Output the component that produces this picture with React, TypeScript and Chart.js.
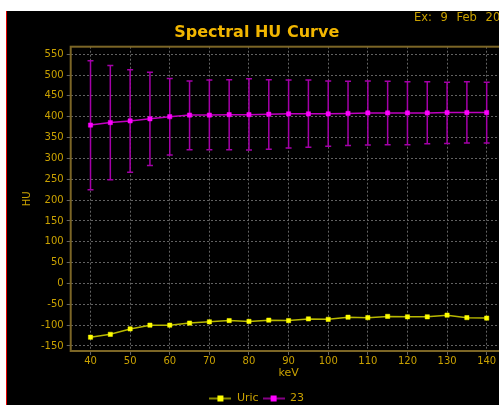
import React, { useEffect, useRef } from "react";
import { Chart, registerables } from "chart.js";

Chart.register(...registerables);

const kev = [40, 45, 50, 55, 60, 65, 70, 75, 80, 85, 90, 95, 100, 105, 110, 115, 120, 125, 130, 135, 140];
const uric = [-129, -122, -109, -100, -100, -95, -92, -89, -91, -88, -89, -85, -86, -81, -82, -79, -80, -80, -76, -82, -83];
const s23 = [380, 386, 390, 395, 400, 404, 404, 405, 405, 406, 407, 407, 407, 408, 409, 409, 409, 409, 410, 410, 410];
const s23Low = [225, 249, 267, 283, 308, 321, 321, 321, 320, 322, 325, 327, 329, 331, 332, 333, 333, 335, 336, 337, 337];
const s23High = [534, 523, 513, 507, 492, 486, 488, 489, 491, 489, 488, 488, 486, 485, 486, 485, 484, 484, 483, 484, 483];
const xTicks = [40, 50, 60, 70, 80, 90, 100, 110, 120, 130, 140];
const yTicks = [-150, -100, -50, 0, 50, 100, 150, 200, 250, 300, 350, 400, 450, 500, 550];
const seriesNames = ["Uric", "23"];
const titleText = "Spectral HU Curve";
const stampText = "Ex: 9 Feb 2020";

const GOLD = "#c9a100";
const FRAME = "#7c6626";
const GRID = "#626262";
const FONT = "'DejaVu Sans', sans-serif";

function legendIcon(line: string, fill: string) {
  const c = document.createElement("canvas");
  c.width = 22;
  c.height = 8;
  const g = c.getContext("2d")!;
  g.strokeStyle = line;
  g.lineWidth = 1.5;
  g.beginPath();
  g.moveTo(0, 4);
  g.lineTo(22, 4);
  g.stroke();
  g.fillStyle = fill;
  g.fillRect(8, 1, 6, 6);
  return c;
}

const errorBars = {
  id: "errorBars",
  beforeDatasetsDraw(chart: any) {
    const { ctx, scales, chartArea } = chart;
    ctx.save();
    ctx.strokeStyle = FRAME;
    ctx.lineWidth = 2;
    ctx.strokeRect(chartArea.left, chartArea.top, chartArea.right - chartArea.left, chartArea.bottom - chartArea.top);
    ctx.strokeStyle = "#a400a8";
    ctx.lineWidth = 1.5;
    for (let i = 0; i < kev.length; i++) {
      const x = scales.x.getPixelForValue(kev[i]);
      const y1 = scales.y.getPixelForValue(s23Low[i]);
      const y2 = scales.y.getPixelForValue(s23High[i]);
      ctx.beginPath();
      ctx.moveTo(x, y1);
      ctx.lineTo(x, y2);
      ctx.moveTo(x - 3, y1);
      ctx.lineTo(x + 3, y1);
      ctx.moveTo(x - 3, y2);
      ctx.lineTo(x + 3, y2);
      ctx.stroke();
    }
    ctx.restore();
  },
};

export default function App() {
  const ref = useRef<HTMLCanvasElement>(null);
  useEffect(() => {
    if (!ref.current) return;
    const icons = [legendIcon("#b8b800", "#ffff00"), legendIcon("#b000b0", "#ff00ff")];
    const chart = new Chart(ref.current, {
      type: "line",
      data: {
        datasets: [
          {
            label: seriesNames[0],
            data: kev.map((k, i) => ({ x: k, y: uric[i] })),
            borderColor: "#b8b800",
            backgroundColor: "#ffff00",
            pointBackgroundColor: "#ffff00",
            pointBorderColor: "#ffff00",
            pointStyle: "rect",
            pointRadius: 3,
            pointBorderWidth: 0.5,
            borderWidth: 1.5,
          },
          {
            label: seriesNames[1],
            data: kev.map((k, i) => ({ x: k, y: s23[i] })),
            borderColor: "#c000c0",
            backgroundColor: "#ff00ff",
            pointBackgroundColor: "#ff00ff",
            pointBorderColor: "#ff00ff",
            pointStyle: "rect",
            pointRadius: 3,
            pointBorderWidth: 0.5,
            borderWidth: 1.5,
          },
        ],
      },
      options: {
        responsive: false,
        animation: false,
        layout: { padding: { left: 0, right: 12.5, top: 0, bottom: 0 } },
        plugins: {
          title: {
            display: true,
            text: titleText,
            color: "#f2b600",
            font: { family: FONT, size: 16, weight: "bold" },
            padding: { top: 12.5, bottom: 4.0 },
          },
          legend: {
            position: "bottom",
            labels: {
              color: GOLD,
              font: { family: FONT, size: 11 },
              usePointStyle: true,
              pointStyleWidth: 22,
              boxHeight: 8,
              padding: 4,
              generateLabels: (c: any) =>
                c.data.datasets.map((d: any, i: number) => ({
                  text: d.label,
                  fontColor: GOLD,
                  pointStyle: icons[i],
                  datasetIndex: i,
                  hidden: false,
                  lineWidth: 0,
                  strokeStyle: "transparent",
                  fillStyle: "transparent",
                })),
            },
          },
          tooltip: { enabled: false },
        },
        scales: {
          x: {
            type: "linear",
            min: 35,
            max: 145,
            afterFit: (s: any) => {
              s.height = 38;
            },
            afterBuildTicks: (s: any) => {
              s.ticks = xTicks.map((v) => ({ value: v }));
            },
            ticks: { color: GOLD, font: { family: FONT, size: 10 }, padding: 0, maxRotation: 0 },
            grid: { color: GRID, tickColor: GRID, tickLength: 4, lineWidth: 1 },
            border: { display: false, dash: [2, 2] },
            title: { display: true, text: "keV", color: GOLD, font: { family: FONT, size: 11 }, padding: { top: 0, bottom: 9 } },
          },
          y: {
            type: "linear",
            min: -162,
            max: 568,
            afterFit: (s: any) => {
              s.width = 63.7;
            },
            afterBuildTicks: (s: any) => {
              s.ticks = yTicks.map((v) => ({ value: v }));
            },
            ticks: { color: GOLD, font: { family: FONT, size: 10 }, padding: 3 },
            grid: { color: GRID, tickColor: GRID, tickLength: 4, lineWidth: 1 },
            border: { display: false, dash: [2, 2] },
            title: { display: true, text: "HU", color: GOLD, font: { family: FONT, size: 10 }, padding: { top: 14, bottom: 0 } },
          },
        },
      },
      plugins: [errorBars],
    });
    return () => chart.destroy();
  }, []);

  return (
    <div style={{ position: "fixed", left: 0, top: 0, width: 499, height: 405, background: "#fff", overflow: "hidden" }}>
      <div style={{ position: "absolute", left: 6, top: 11, width: 1.3, height: 394, background: "#e00000" }} />
      <div style={{ position: "absolute", left: 7.3, top: 11, width: 520, height: 403, background: "#000" }}>
        <canvas ref={ref} width={512} height={403} style={{ display: "block" }} />
        <div
          style={{
            position: "absolute",
            left: 406.7,
            top: 0,
            whiteSpace: "nowrap",
            color: GOLD,
            fontFamily: FONT,
            fontSize: 11.5,
            lineHeight: "13px",
            wordSpacing: 5,
          }}
        >
          {stampText}
        </div>
      </div>
    </div>
  );
}
